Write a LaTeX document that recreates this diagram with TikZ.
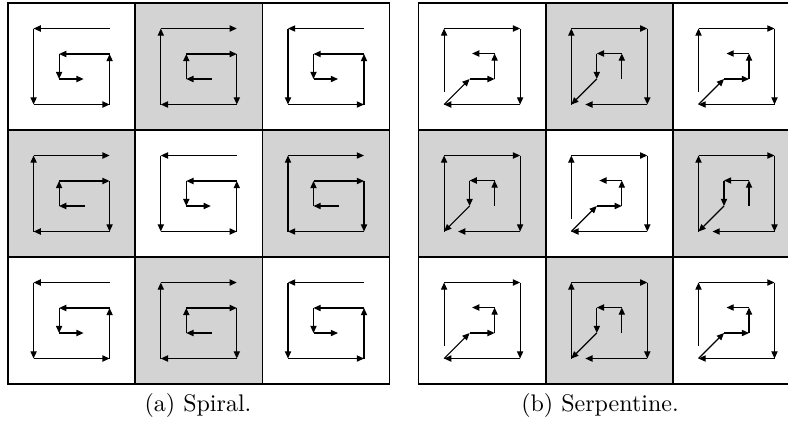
\documentclass[tikz,border=0pt]{standalone}
\usetikzlibrary{arrows.meta}

\definecolor{cellgray}{RGB}{211,211,211}

\tikzset{every picture/.style={line width=0.5pt}}
\tikzset{
  cellbox/.style={draw, line width=0.7pt},
  trail/.style={-{Triangle[length=3pt,width=2.6pt]}, line width=0.5pt},
  spiral in/.pic={
    \draw[trail] (38,38) -- (-38,38);
    \draw[trail] (-38,38) -- (-38,-38);
    \draw[trail] (-38,-38) -- (38,-38);
    \draw[trail] (38,-38) -- (38,12.5);
    \draw[trail] (38,12.5) -- (-12.5,12.5);
    \draw[trail] (-12.5,12.5) -- (-12.5,-12.5);
    \draw[trail] (-12.5,-12.5) -- (12,-12.5);
  },
  spiral out/.pic={
    \draw[trail] (13,-12.5) -- (-12.5,-12.5);
    \draw[trail] (-12.5,-12.5) -- (-12.5,12.5);
    \draw[trail] (-12.5,12.5) -- (38,12.5);
    \draw[trail] (38,12.5) -- (38,-38);
    \draw[trail] (38,-38) -- (-38,-38);
    \draw[trail] (-38,-38) -- (-38,38);
    \draw[trail] (-38,38) -- (38,38);
  },
  serp in/.pic={
    \draw[trail] (-38,-25) -- (-38,38);
    \draw[trail] (-38,38) -- (38,38);
    \draw[trail] (38,38) -- (38,-38);
    \draw[trail] (38,-38) -- (-38,-38);
    \draw[trail] (-38,-38) -- (-12.5,-12.5);
    \draw[trail] (-12.5,-12.5) -- (12.5,-12.5);
    \draw[trail] (12.5,-12.5) -- (12.5,13);
    \draw[trail] (12.5,13) -- (-10,13);
  },
  serp out/.pic={
    \draw[trail] (12.5,-12.5) -- (12.5,13);
    \draw[trail] (12.5,13) -- (-12.5,13);
    \draw[trail] (-12.5,13) -- (-12.5,-12.5);
    \draw[trail] (-12.5,-12.5) -- (-38,-38);
    \draw[trail] (-38,-38) -- (-38,38);
    \draw[trail] (-38,38) -- (38,38);
    \draw[trail] (38,38) -- (38,-38);
    \draw[trail] (38,-38) -- (-24,-38);
  },
}

\begin{document}
\begin{tikzpicture}[x=0.4167pt,y=0.4167pt,yscale=-1,xscale=1]
\useasboundingbox (0,0) rectangle (788,423);
\clip (0,0) rectangle (788,423);

% spiral grid (left) and serpentine grid (right)
\foreach \col in {0,1,2}{
  \foreach \row in {0,1,2}{
    \pgfmathsetmacro\xa{8+127.2*\col}
    \pgfmathsetmacro\xb{418.5+127.2*\col}
    \pgfmathsetmacro\ya{3+127*\row}
    \pgfmathtruncatemacro\shade{mod(\col+\row,2)}
    \ifnum\shade=1
      \path[cellbox, fill=cellgray] (\xa,\ya) rectangle ++(127.2,127);
      \path[cellbox, fill=cellgray] (\xb,\ya) rectangle ++(127.2,127);
      \pic at (\xa+63.6,\ya+63.5) {spiral out};
      \pic at (\xb+63.6,\ya+63.5) {serp out};
    \else
      \path[cellbox, fill=white] (\xa,\ya) rectangle ++(127.2,127);
      \path[cellbox, fill=white] (\xb,\ya) rectangle ++(127.2,127);
      \pic at (\xa+63.6,\ya+63.5) {spiral in};
      \pic at (\xb+63.6,\ya+63.5) {serp in};
    \fi
  }
}

\node (capa) at (198,405) {(a) Spiral.};
\node (capb) at (600,405) {(b) Serpentine.};

\end{tikzpicture}
\end{document}
